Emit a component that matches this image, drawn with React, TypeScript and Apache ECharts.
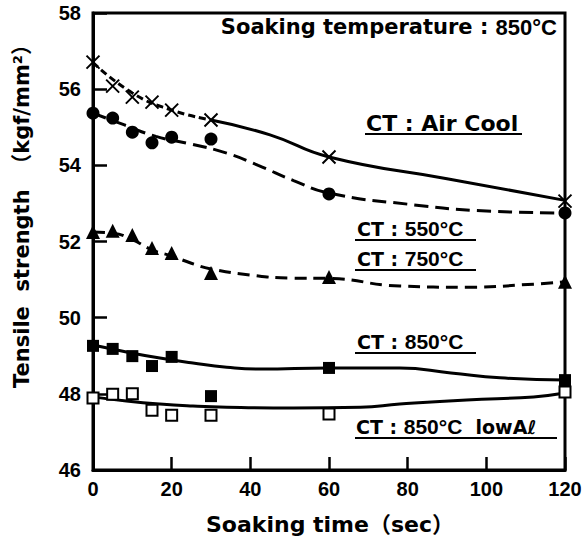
import React, { useEffect, useRef } from "react";
import * as echarts from "echarts";

// measured points
const times = [0, 5, 10, 15, 20, 30, 60, 120];
const airCool = [56.71, 56.08, 55.79, 55.66, 55.45, 55.19, 54.22, 53.06];
const ct550 = [55.37, 55.24, 54.87, 54.59, 54.74, 54.69, 53.25, 52.75];
const ct750 = [52.25, 52.28, 52.17, 51.83, 51.7, 51.17, 51.07, 50.94];
const ct850 = [49.26, 49.18, 48.99, 48.73, 48.97, 47.94, 48.68, 48.36];
const ct850LowAl = [47.89, 47.99, 48.0, 47.57, 47.44, 47.44, 47.47, 48.05];

// fitted curves
const airFitDashX = [0, 10, 20, 30];
const airFitDashY = [56.7, 55.9, 55.45, 55.19];
const airFitX = [30, 45, 60, 90, 120];
const airFitY = [55.19, 54.8, 54.22, 53.65, 53.08];
const fit550X = [0, 8, 16, 24, 34, 42, 51, 60, 80, 100, 120];
const fit550Y = [55.37, 55.06, 54.76, 54.58, 54.32, 54.0, 53.6, 53.27, 52.98, 52.8, 52.75];
const fit750X = [0, 5, 10, 15, 20, 25, 30, 40, 50, 60, 78, 95, 112, 120];
const fit750Y = [52.25, 52.22, 52.05, 51.78, 51.62, 51.43, 51.28, 51.12, 51.04, 51.03, 50.83, 50.8, 50.88, 50.94];
const fit850X = [0, 8.5, 17, 25.4, 34, 42.5, 60, 78, 91, 103.5, 120];
const fit850Y = [49.28, 49.1, 48.94, 48.81, 48.7, 48.65, 48.68, 48.68, 48.55, 48.42, 48.36];
const fitLowX = [0, 8.5, 17, 25.4, 34, 51, 68, 78, 95, 112, 120];
const fitLowY = [47.92, 47.81, 47.73, 47.68, 47.65, 47.63, 47.65, 47.73, 47.84, 47.92, 48.02];

const xTicks = [0, 20, 40, 60, 80, 100, 120];
const yTicks = [46, 48, 50, 52, 54, 56, 58];

const zip = (xs: number[], ys: number[]) => xs.map((x, i) => [x, ys[i]]);

const TICK_FONT = "'Liberation Sans Narrow', 'Liberation Sans', sans-serif";
const LABEL_FONT = "'DejaVu Sans', 'Noto Sans CJK JP', sans-serif";
const NUM_FONT = "'Liberation Sans', sans-serif";

export default function App() {
  const ref = useRef<HTMLDivElement>(null);
  useEffect(() => {
    document.body.style.margin = "0";
    if (!ref.current) return;
    const chart = echarts.init(ref.current, null, { renderer: "svg" });
    const lineBase = (data: number[][], type: any, dash?: number[]) => ({
      type: "line",
      data,
      smooth: true,
      symbol: "none",
      silent: true,
      z: 2,
      lineStyle: { color: "#000", width: 3, type: dash ? dash : type },
    });
    const scatter = (data: number[][], symbol: string, size: number, fill: string, border = 0) => ({
      type: "scatter",
      data,
      symbol,
      symbolSize: size,
      z: 3,
      itemStyle: { color: fill, borderColor: "#000", borderWidth: border, opacity: 1 },
    });
    const rich = (a: number, n: number) => ({
      a: { font: `bold ${a}px ${LABEL_FONT}`, fill: "#000" },
      n: { font: `bold ${n}px ${NUM_FONT}`, fill: "#000" },
    });
    const ctLabel = (text: string, x: number, y: number, ux1: number, ux2: number, uy: number, size = 19) => [
      {
        type: "text",
        left: x,
        top: y,
        style: { text, rich: rich(size, size + 2), fill: "#000" },
      },
      {
        type: "line",
        shape: { x1: ux1, y1: uy, x2: ux2, y2: uy },
        style: { stroke: "#000", lineWidth: 2 },
      },
    ];
    chart.setOption({
      animation: false,
      grid: { left: 93, right: 23, top: 13, bottom: 73, show: true, borderColor: "#000", borderWidth: 3 },
      xAxis: {
        type: "value",
        min: 0,
        max: 120,
        interval: 20,
        axisLine: { show: true, lineStyle: { color: "#000", width: 3 } },
        axisTick: { show: true, inside: true, length: 13, lineStyle: { color: "#000", width: 2.5 } },
        splitLine: { show: false },
        axisLabel: {
          color: "#000",
          fontSize: 20,
          fontWeight: "bold",
          fontFamily: TICK_FONT,
          margin: 9,
          customValues: xTicks,
        },
      },
      yAxis: {
        type: "value",
        min: 46,
        max: 58,
        interval: 2,
        axisLine: { show: true, lineStyle: { color: "#000", width: 3 } },
        axisTick: { show: true, inside: true, length: 14, lineStyle: { color: "#000", width: 2.5 } },
        splitLine: { show: false },
        axisLabel: {
          color: "#000",
          fontSize: 20,
          fontWeight: "bold",
          fontFamily: TICK_FONT,
          margin: 12,
          customValues: yTicks,
        },
      },
      series: [
        lineBase(zip(airFitDashX, airFitDashY), "dashed", [7, 4]),
        lineBase(zip(airFitX, airFitY), "solid"),
        lineBase(zip(fit550X, fit550Y), "dashed", [14, 7]),
        lineBase(zip(fit750X, fit750Y), "dashed", [12, 7]),
        lineBase(zip(fit850X, fit850Y), "solid"),
        lineBase(zip(fitLowX, fitLowY), "solid"),
        scatter(zip(times, airCool), "path://M0,0L10,10M10,0L0,10", 13, "none", 2),
        scatter(zip(times, ct550), "circle", 13, "#000"),
        scatter(zip(times, ct750), "triangle", 14, "#000"),
        scatter(zip(times, ct850), "rect", 12, "#000"),
        scatter(zip(times, ct850LowAl), "rect", 11, "#fff", 2),
      ],
      graphic: [
        {
          type: "text",
          right: 31,
          top: 16,
          style: { text: "{a|Soaking temperature : }{n|850°C}", rich: rich(21, 22) },
        },
        ...ctLabel("{a|CT : Air Cool}", 366, 112, 365, 522, 134, 22),
        ...ctLabel("{a|CT : }{n|550°C}", 357, 218, 355, 476, 240),
        ...ctLabel("{a|CT : }{n|750°C}", 357, 248, 355, 476, 270),
        ...ctLabel("{a|CT : }{n|850°C}", 357, 331, 355, 476, 353),
        ...ctLabel("{a|CT : }{n|850°C}{a|  lowAℓ}", 356, 416, 355, 557, 438),
        {
          type: "text",
          x: 22,
          y: 211,
          rotation: Math.PI / 2,
          style: {
            text: "Tensile  strength  （kgf/mm²）",
            font: `bold 21px ${LABEL_FONT}`,
            fill: "#000",
            align: "center",
            verticalAlign: "middle",
          },
        },
        {
          type: "text",
          x: 330,
          y: 524,
          style: {
            text: "Soaking time（sec）",
            font: `bold 22px ${LABEL_FONT}`,
            fill: "#000",
            align: "center",
            verticalAlign: "middle",
          },
        },
      ],
    });
    return () => chart.dispose();
  }, []);
  return <div ref={ref} style={{ width: 588, height: 543 }} />;
}
